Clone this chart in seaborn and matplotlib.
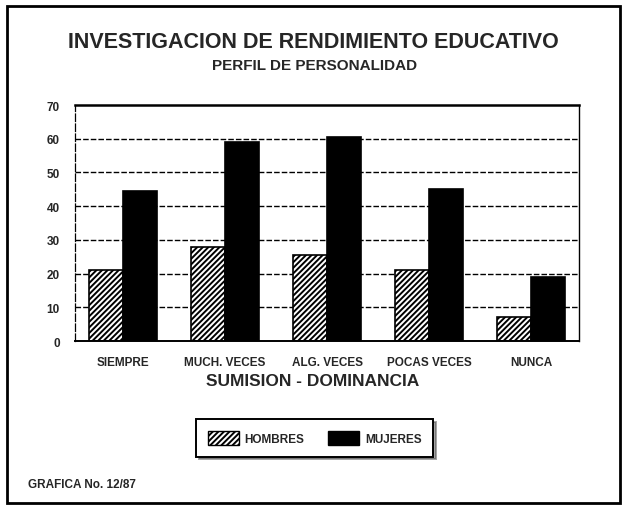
import matplotlib
matplotlib.use("Agg")
import matplotlib.pyplot as plt
from matplotlib.patches import Patch, Rectangle
import pandas as pd
import seaborn as sns

# data
categorias = ["SIEMPRE", "MUCH. VECES", "ALG. VECES", "POCAS VECES", "NUNCA"]
hombres = [21, 28, 25.5, 21, 7]
mujeres = [44.5, 59, 60.5, 45, 19]
series = ["HOMBRES", "MUJERES"]
y_ticks = [0, 10, 20, 30, 40, 50, 60, 70]

df = pd.DataFrame({
    "categoria": categorias * 2,
    "valor": hombres + mujeres,
    "sexo": [series[0]] * len(categorias) + [series[1]] * len(categorias),
})

sns.set_style("white")
plt.rcParams["font.family"] = ["Liberation Sans", "DejaVu Sans"]
plt.rcParams["hatch.linewidth"] = 1.4

fig = plt.figure(figsize=(6.27, 5.10), dpi=100)
ax = fig.add_axes([0.1196, 0.3294, 0.804, 0.4627])

sns.barplot(
    data=df, x="categoria", y="valor", hue="sexo",
    palette={"HOMBRES": "white", "MUJERES": "black"},
    width=0.66, edgecolor="black", linewidth=1.2,
    dodge=True, legend=False, ax=ax,
)
for bar in ax.containers[0]:
    bar.set_hatch("//////")
    bar.set_edgecolor("black")

ax.set_ylim(0, 70)
ax.set_xlim(-0.47, 4.47)
ax.set_yticks(y_ticks)
ax.set_yticklabels([str(t) for t in y_ticks], fontsize=8.5, fontweight="bold")
ax.set_xticks(range(len(categorias)))
ax.set_xticklabels(categorias, fontsize=8.5, fontweight="bold")
ax.tick_params(axis="both", direction="out", length=4, width=1, color="black", pad=7)
ax.set_ylabel("")
ax.set_xlabel("")

ax.set_axisbelow(True)
for t in y_ticks[1:-1]:
    ax.axhline(t, color="black", linestyle=(0, (4, 1.5)), linewidth=1.0, zorder=0)

for side in ["top", "bottom", "right"]:
    ax.spines[side].set_visible(True)
    ax.spines[side].set_color("black")
ax.spines["top"].set_linewidth(1.8)
ax.spines["bottom"].set_linewidth(1.4)
ax.spines["right"].set_linewidth(1.0)
ax.spines["left"].set_color("black")
ax.spines["left"].set_linewidth(0.9)
ax.spines["left"].set_linestyle((0, (6, 2)))

fig.text(0.5, 1 - 42 / 510, "INVESTIGACION DE RENDIMIENTO EDUCATIVO",
         ha="center", va="center", fontsize=15.5, fontweight="bold")
fig.text(0.501, 1 - 66 / 510, "PERFIL DE PERSONALIDAD",
         ha="center", va="center", fontsize=11, fontweight="bold")
fig.text(313 / 627, 1 - 381 / 510, "SUMISION - DOMINANCIA",
         ha="center", va="center", fontsize=12.5, fontweight="bold")

handles = [
    Patch(facecolor="white", edgecolor="black", hatch="//////", label=series[0]),
    Patch(facecolor="black", edgecolor="black", label=series[1]),
]
leg = fig.legend(handles=handles, loc="center",
                 bbox_to_anchor=(0.502, 1 - 439 / 510),
                 ncol=2, frameon=True, shadow=True, fancybox=False,
                 prop={"weight": "bold", "size": 8.5}, borderpad=1.0,
                 handlelength=2.6, handleheight=1.4, columnspacing=2.0,
                 handletextpad=0.5, edgecolor="black")
leg.get_frame().set_linewidth(1.4)

fig.text(28 / 627, 1 - 485 / 510, "GRAFICA No. 12/87", ha="left", va="center",
         fontsize=8.5, fontweight="bold")

# frame around the whole sheet
fig.patches.append(Rectangle((0.011, 0.012), 0.978, 0.975, transform=fig.transFigure,
                             fill=False, edgecolor="black", linewidth=2.0))

fig.savefig("out.png", dpi=100)
